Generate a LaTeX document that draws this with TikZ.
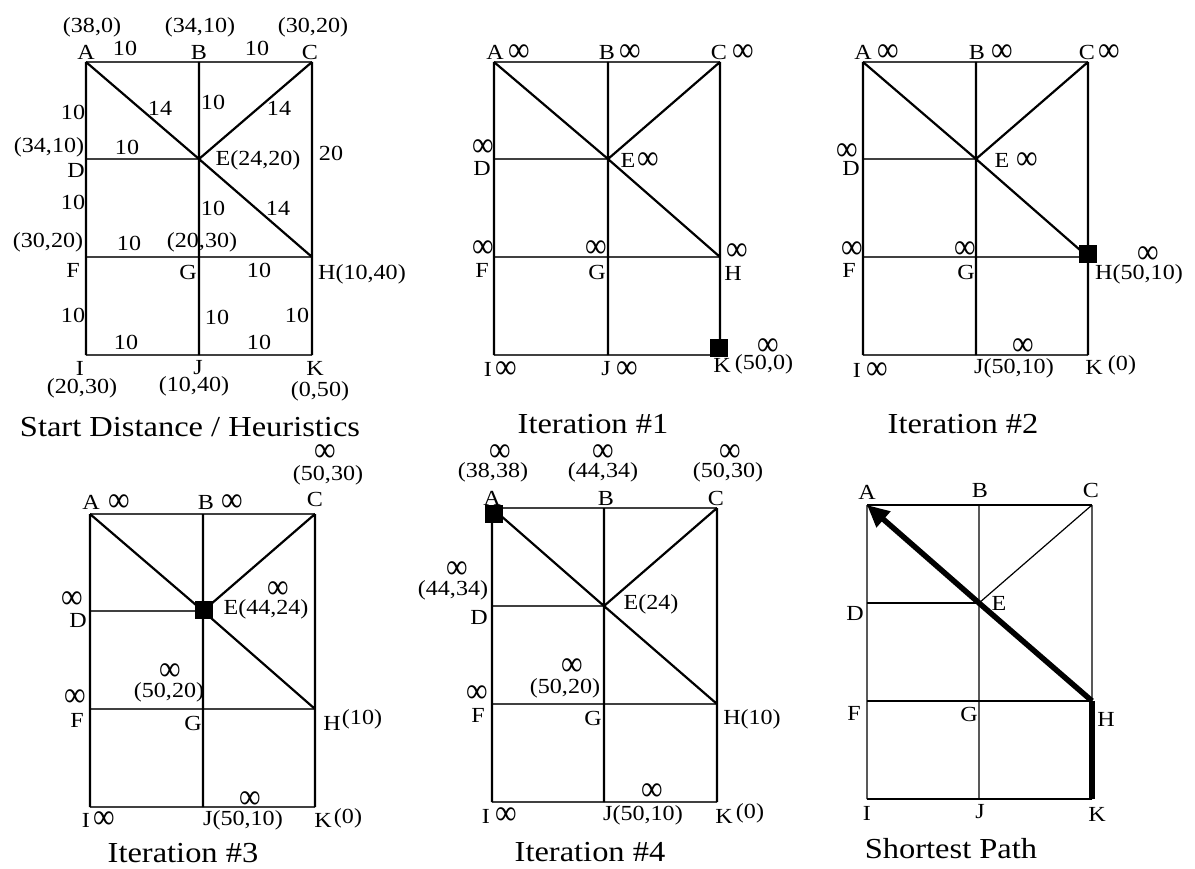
\documentclass[tikz,border=0pt]{standalone}
\usepackage{fontspec}
\usepackage{graphicx}
\setmainfont[FakeStretch=1.12]{Liberation Serif}
\usetikzlibrary{arrows.meta}
\newcommand{\infsym}{{\fontsize{27}{27}\selectfont\scalebox{1}[1.3]{∞}}}
\newcommand{\lab}[4]{\node[lbl] (#1) at (#2,#3) {#4};}
\newcommand{\inflab}[3]{\node[lbl] (#1) at (#2,#3) {\infsym};}
\newcommand{\mkgrid}[8]{%
 \coordinate (#1A) at (#2,#5); \coordinate (#1B) at (#3,#5); \coordinate (#1C) at (#4,#5);
 \coordinate (#1D) at (#2,#6); \coordinate (#1E) at (#3,#6);
 \coordinate (#1F) at (#2,#7); \coordinate (#1G) at (#3,#7); \coordinate (#1H) at (#4,#7);
 \coordinate (#1I) at (#2,#8); \coordinate (#1J) at (#3,#8); \coordinate (#1K) at (#4,#8);}
\newcommand{\drawgrid}[3]{%
 \draw[#2] (#1A)--(#1B)--(#1C) (#1D)--(#1E) (#1F)--(#1G)--(#1H) (#1I)--(#1J)--(#1K);
 \draw[#3] (#1A)--(#1D)--(#1F)--(#1I) (#1B)--(#1E)--(#1G)--(#1J) (#1C)--(#1H)--(#1K)
   (#1A)--(#1E)--(#1H) (#1C)--(#1E);}
\tikzset{
 lbl/.style={font=\fontsize{21.5}{23}\selectfont, inner sep=0pt},
 ttl/.style={font=\fontsize{29}{31}\selectfont, inner sep=0pt},
 hline/.style={line width=1.3pt, black!75},
 vline/.style={line width=2.2pt, black},
 thinline/.style={line width=1.2pt, black},
 marker/.style={fill=black, minimum size=18pt, inner sep=0pt},
 spath/.style={line width=5.5pt, black}
}
\begin{document}
\begin{tikzpicture}[x=1pt,y=-1pt]
\useasboundingbox (0,0) rectangle (1195,869);
% ---------- Panel 1: Start Distance / Heuristics ----------
\mkgrid{a}{86}{199}{312}{62}{159}{257}{355}
\drawgrid{a}{hline}{vline}
\lab{a1}{92}{27}{(38,0)}
\lab{a2}{200}{27}{(34,10)}
\lab{a3}{313}{27}{(30,20)}
\lab{a4}{86}{52}{A}
\lab{a5}{199}{52}{B}
\lab{a6}{310}{52}{C}
\lab{a7}{125}{48}{10}
\lab{a8}{257}{48}{10}
\lab{a9}{73}{112}{10}
\lab{a10}{160}{108}{14}
\lab{a11}{213}{102}{10}
\lab{a12}{279}{108}{14}
\lab{a13}{49}{147}{(34,10)}
\lab{a14}{127}{147}{10}
\lab{a15}{76}{170}{D}
\lab{a16}{258}{160}{E(24,20)}
\lab{a17}{331}{153}{20}
\lab{a18}{73}{202}{10}
\lab{a19}{213}{208}{10}
\lab{a20}{278}{208}{14}
\lab{a21}{48}{242}{(30,20)}
\lab{a22}{129}{243}{10}
\lab{a23}{202}{242}{(20,30)}
\lab{a24}{73}{270}{F}
\lab{a25}{188}{272}{G}
\lab{a26}{259}{270}{10}
\lab{a27}{362}{274}{H(10,40)}
\lab{a28}{73}{315}{10}
\lab{a29}{217}{317}{10}
\lab{a30}{297}{315}{10}
\lab{a31}{126}{342}{10}
\lab{a32}{259}{342}{10}
\lab{a33}{80}{368}{I}
\lab{a34}{198}{368}{J}
\lab{a35}{315}{368}{K}
\lab{a36}{82}{388}{(20,30)}
\lab{a37}{194}{386}{(10,40)}
\lab{a38}{320}{391}{(0,50)}
\node[ttl] (at) at (190,427) {Start Distance / Heuristics};
% ---------- Panel 2: Iteration #1 ----------
\mkgrid{b}{494}{608}{720}{62}{159}{257}{355}
\drawgrid{b}{hline}{vline}
\node[marker] (bsq) at (719,348) {};
\lab{b1}{495}{52}{A}  \inflab{b2}{519}{53}
\lab{b3}{607}{52}{B}  \inflab{b4}{630}{53}
\lab{b5}{719}{52}{C}  \inflab{b6}{743}{53}
\inflab{b7}{483}{148} \lab{b8}{482}{168}{D}
\lab{b9}{628}{160}{E} \inflab{b10}{648}{161}
\inflab{b11}{483}{249} \lab{b12}{482}{270}{F}
\inflab{b13}{596}{249} \lab{b14}{597}{272}{G}
\inflab{b15}{737}{252} \lab{b16}{733}{273}{H}
\lab{b17}{488}{369}{I} \inflab{b18}{506}{370}
\lab{b19}{606}{369}{J} \inflab{b20}{627}{370}
\inflab{b21}{768}{347}
\lab{b22}{722}{365}{K} \lab{b23}{764}{364}{(50,0)}
\node[ttl] (bt) at (593,424) {Iteration \#1};
% ---------- Panel 3: Iteration #2 ----------
\mkgrid{c}{863}{976}{1088}{62}{159}{257}{355}
\drawgrid{c}{hline}{vline}
\node[marker] (csq) at (1088,254) {};
\lab{c1}{863}{52}{A}  \inflab{c2}{888}{53}
\lab{c3}{977}{52}{B}  \inflab{c4}{1002}{53}
\lab{c5}{1087}{52}{C} \inflab{c6}{1109}{53}
\inflab{c7}{847}{152} \lab{c8}{851}{168}{D}
\lab{c9}{1002}{160}{E} \inflab{c10}{1027}{161}
\inflab{c11}{852}{250} \lab{c12}{849}{270}{F}
\inflab{c13}{965}{250} \lab{c14}{966}{272}{G}
\inflab{c15}{1148}{255} \lab{c16}{1139}{274}{H(50,10)}
\lab{c17}{857}{370}{I} \inflab{c18}{877}{371}
\inflab{c19}{1023}{347} \lab{c20}{1014}{368}{J(50,10)}
\lab{c21}{1094}{367}{K} \lab{c22}{1122}{365}{(0)}
\node[ttl] (ct) at (963,424) {Iteration \#2};
% ---------- Panel 4: Iteration #3 ----------
\mkgrid{d}{90}{203}{315}{514}{611}{709}{807}
\drawgrid{d}{hline}{vline}
\node[marker] (dsq) at (204,610) {};
\inflab{d1}{325}{453} \lab{d2}{328}{475}{(50,30)} \lab{d3}{315}{499}{C}
\lab{d4}{91}{502}{A}  \inflab{d5}{119}{503}
\lab{d6}{206}{502}{B} \inflab{d7}{232}{503}
\inflab{d8}{72}{600} \lab{d9}{78}{620}{D}
\inflab{d10}{278}{590} \lab{d11}{266}{609}{E(44,24)}
\inflab{d12}{170}{672} \lab{d13}{169}{692}{(50,20)}
\inflab{d14}{75}{698} \lab{d15}{77}{720}{F}
\lab{d16}{193}{723}{G}
\lab{d17}{332}{723}{H} \lab{d18}{362}{719}{(10)}
\inflab{d19}{250}{800} \lab{d20}{243}{820}{J(50,10)}
\lab{d21}{86}{820}{I} \inflab{d22}{104}{820}
\lab{d23}{323}{820}{K} \lab{d24}{348}{818}{(0)}
\node[ttl] (dt) at (183,853) {Iteration \#3};
% ---------- Panel 5: Iteration #4 ----------
\mkgrid{e}{492}{604}{717}{508}{606}{704}{802}
\drawgrid{e}{hline}{vline}
\node[marker] (esq) at (494,514) {};
\inflab{e1}{500}{453} \lab{e2}{493}{472}{(38,38)} \lab{e3}{492}{498}{A}
\inflab{e4}{603}{453} \lab{e5}{603}{472}{(44,34)} \lab{e6}{606}{498}{B}
\inflab{e7}{730}{453} \lab{e8}{728}{472}{(50,30)} \lab{e9}{716}{498}{C}
\inflab{e10}{457}{570} \lab{e11}{453}{590}{(44,34)} \lab{e12}{479}{617}{D}
\lab{e13}{651}{604}{E(24)}
\inflab{e14}{572}{667} \lab{e15}{565}{688}{(50,20)}
\inflab{e16}{477}{694} \lab{e17}{478}{715}{F}
\lab{e18}{593}{718}{G}
\lab{e19}{752}{719}{H(10)}
\inflab{e20}{652}{792} \lab{e21}{643}{815}{J(50,10)}
\lab{e22}{486}{816}{I} \inflab{e23}{506}{816}
\lab{e24}{724}{816}{K} \lab{e25}{750}{813}{(0)}
\node[ttl] (et) at (590,852) {Iteration \#4};
% ---------- Panel 6: Shortest Path ----------
\mkgrid{f}{867}{979}{1092}{505}{603}{701}{799}
\drawgrid{f}{thinline}{thinline}
\draw[spath] (fK) -- (fH);
\draw[spath, -{Triangle[length=22pt,width=20pt]}] (fH) -- (fE) -- (fA);
\lab{f1}{867}{492}{A}
\lab{f2}{980}{490}{B}
\lab{f3}{1091}{490}{C}
\lab{f4}{855}{613}{D}
\lab{f5}{999}{603}{E}
\lab{f6}{854}{713}{F}
\lab{f7}{969}{714}{G}
\lab{f8}{1106}{719}{H}
\lab{f9}{867}{813}{I}
\lab{f10}{980}{812}{J}
\lab{f11}{1097}{814}{K}
\node[ttl] (ft) at (951,849) {Shortest Path};
\end{tikzpicture}
\end{document}
